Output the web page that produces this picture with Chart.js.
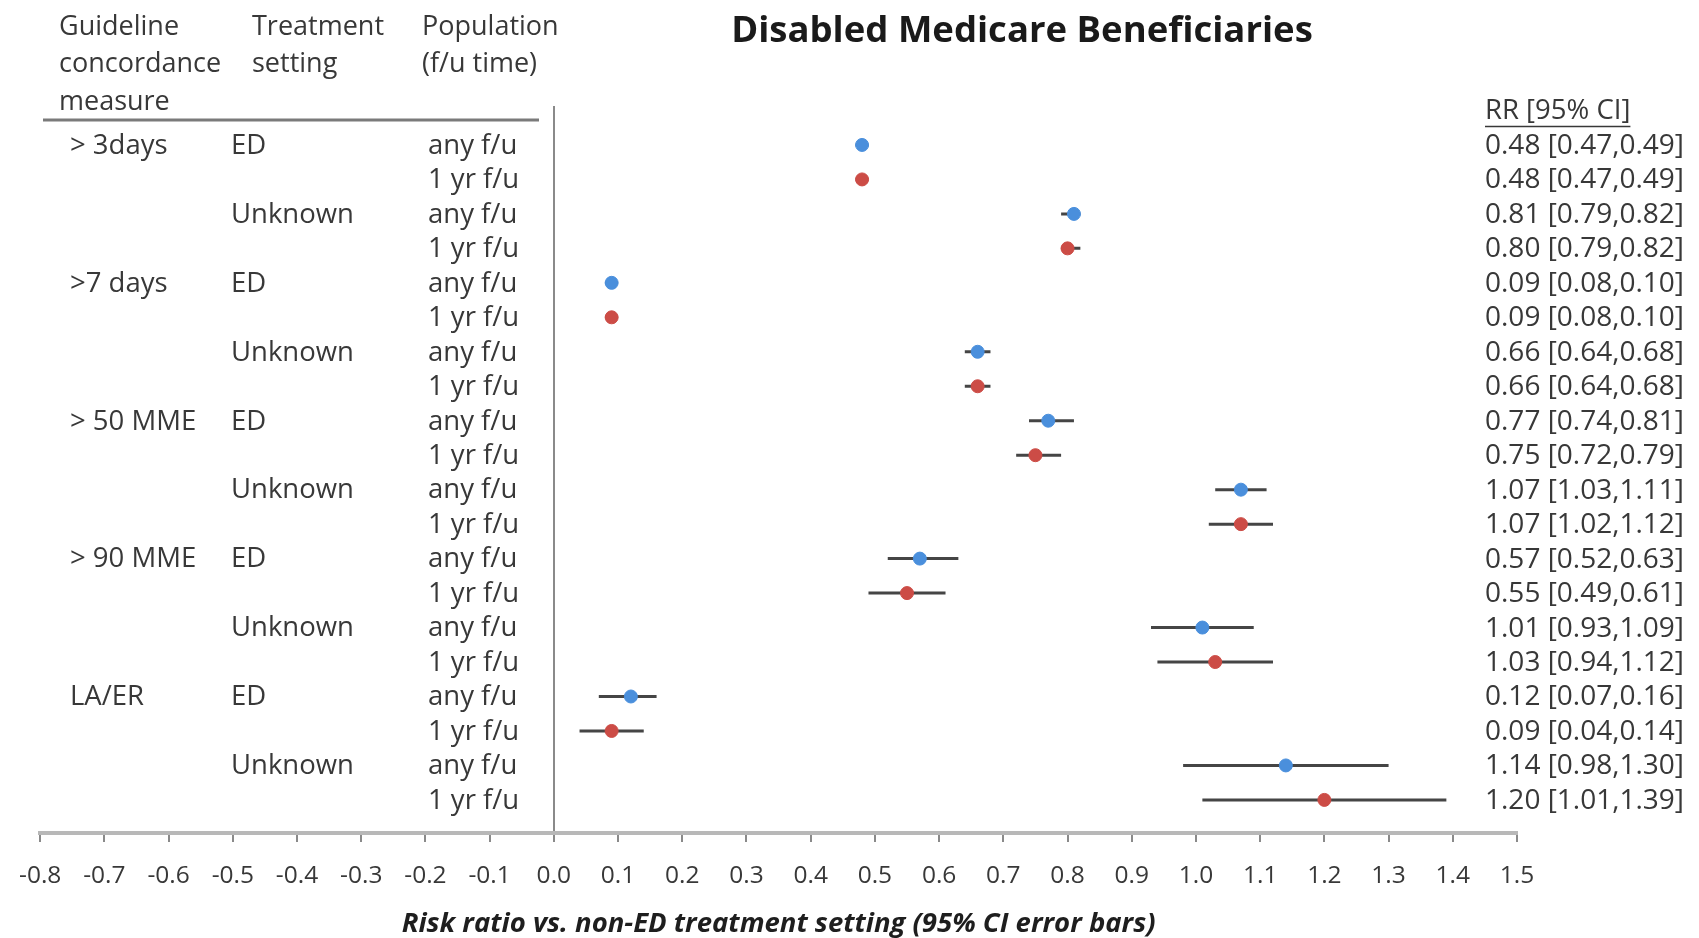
<!DOCTYPE html>
<html>
<head>
<meta charset="utf-8">
<title>Disabled Medicare Beneficiaries</title>
<script src="https://cdn.jsdelivr.net/npm/chart.js@4.4.1/dist/chart.umd.min.js"></script>
<style>
  html, body { margin: 0; padding: 0; background: #fff; }
  #wrap { width: 1699px; height: 938px; position: relative; }
</style>
</head>
<body>
<div id="wrap"><canvas id="forest"></canvas></div>
<script>
// --- values (one entry per row, top to bottom) ---
const measures = ['> 3days', '', '', '', '>7 days', '', '', '', '> 50 MME', '', '', '',
                  '> 90 MME', '', '', '', 'LA/ER', '', '', ''];
const settings = ['ED', '', 'Unknown', '', 'ED', '', 'Unknown', '', 'ED', '', 'Unknown', '',
                  'ED', '', 'Unknown', '', 'ED', '', 'Unknown', ''];
const populations = ['any f/u', '1 yr f/u', 'any f/u', '1 yr f/u', 'any f/u', '1 yr f/u', 'any f/u', '1 yr f/u',
                     'any f/u', '1 yr f/u', 'any f/u', '1 yr f/u', 'any f/u', '1 yr f/u', 'any f/u', '1 yr f/u',
                     'any f/u', '1 yr f/u', 'any f/u', '1 yr f/u'];
const rr    = [0.48, 0.48, 0.81, 0.80, 0.09, 0.09, 0.66, 0.66, 0.77, 0.75,
               1.07, 1.07, 0.57, 0.55, 1.01, 1.03, 0.12, 0.09, 1.14, 1.20];
const ciLow = [0.47, 0.47, 0.79, 0.79, 0.08, 0.08, 0.64, 0.64, 0.74, 0.72,
               1.03, 1.02, 0.52, 0.49, 0.93, 0.94, 0.07, 0.04, 0.98, 1.01];
const ciHigh = [0.49, 0.49, 0.82, 0.82, 0.10, 0.10, 0.68, 0.68, 0.81, 0.79,
                1.11, 1.12, 0.63, 0.61, 1.09, 1.12, 0.16, 0.14, 1.30, 1.39];
const xMin = -0.8, xMax = 1.5, xStep = 0.1;

const FONT = '"Open Sans", Lato, sans-serif';
const BLUE = '#4a8fdc';
const RED = '#cc4c46';
const TEXT = '#383838';

// points: "any f/u" rows in blue, "1 yr f/u" rows in red
const anyPts = [], yrPts = [], ciPts = [];
rr.forEach((v, i) => {
  (i % 2 === 0 ? anyPts : yrPts).push({ x: v, y: i });
  ciPts.push({ x: ciLow[i], y: i }, { x: ciHigh[i], y: i }, { x: ciHigh[i], y: null });
});

const fmt = v => v.toFixed(2);

// table text, title and header rule drawn around the plot
const tablePlugin = {
  id: 'tableText',
  afterDraw(chart) {
    const ctx = chart.ctx;
    const y = chart.scales.y;
    ctx.save();
    ctx.fillStyle = '#1a1a1a';
    ctx.font = 'bold 36.5px ' + FONT;
    ctx.textAlign = 'center';
    ctx.textBaseline = 'middle';
    ctx.fillText('Disabled Medicare Beneficiaries', 1022, 32);

    ctx.fillStyle = TEXT;
    ctx.font = '27px ' + FONT;
    ctx.textAlign = 'left';
    [['Guideline', 'concordance', 'measure'], ['Treatment', 'setting'], ['Population', '(f/u time)']]
      .forEach((lines, c) => {
        const x = [59, 252, 422][c];
        lines.forEach((t, k) => ctx.fillText(t, x, 27 + k * 37.5));
      });

    ctx.strokeStyle = '#7a7a7a';
    ctx.lineWidth = 3;
    ctx.beginPath();
    ctx.moveTo(43, 120);
    ctx.lineTo(539, 120);
    ctx.stroke();

    ctx.font = '27.5px ' + FONT;
    rr.forEach((v, i) => {
      const py = y.getPixelForValue(i) + 1;
      ctx.fillText(measures[i], 70, py);
      ctx.fillText(settings[i], 231, py);
      ctx.fillText(populations[i], 428, py);
    });
    ctx.font = '28px ' + FONT;
    rr.forEach((v, i) => {
      const py = y.getPixelForValue(i) + 1;
      ctx.fillText(fmt(v) + ' [' + fmt(ciLow[i]) + ',' + fmt(ciHigh[i]) + ']', 1485, py);
    });

    // RR column header, underlined
    const head = 'RR [95% CI]';
    const hy = y.getPixelForValue(-1.0) + 1;
    ctx.font = '27.5px ' + FONT;
    ctx.fillText(head, 1485, hy);
    const w = ctx.measureText(head).width;
    ctx.lineWidth = 1.5;
    ctx.strokeStyle = TEXT;
    ctx.beginPath();
    ctx.moveTo(1485, hy + 15);
    ctx.lineTo(1485 + w, hy + 15);
    ctx.stroke();
    ctx.restore();
  }
};

new Chart(document.getElementById('forest'), {
  type: 'scatter',
  data: {
    datasets: [
      { label: 'any f/u', data: anyPts, backgroundColor: BLUE, borderColor: BLUE,
        pointRadius: 6.5, pointHoverRadius: 6.5, order: 1 },
      { label: '1 yr f/u', data: yrPts, backgroundColor: RED, borderColor: RED,
        pointRadius: 6.5, pointHoverRadius: 6.5, order: 1 },
      { label: '95% CI', data: ciPts, showLine: true, spanGaps: false, pointRadius: 0,
        borderColor: '#454545', borderWidth: 3, order: 2 }
    ]
  },
  options: {
    responsive: true,
    maintainAspectRatio: false,
    animation: false,
    layout: { padding: { left: 38, right: 182, top: 106, bottom: 0 } },
    plugins: { legend: { display: false }, tooltip: { enabled: false } },
    scales: {
      x: {
        type: 'linear',
        min: xMin,
        max: xMax,
        afterFit(scale) { scale.height = 105; },
        border: { display: true, color: '#b8b8b8', width: 4 },
        grid: {
          color: c => (c.tick && Math.abs(c.tick.value) < 1e-9) ? '#8a8a8a' : 'rgba(0,0,0,0)',
          lineWidth: 2,
          tickColor: '#8a8a8a',
          tickLength: 9,
          drawTicks: true
        },
        ticks: {
          stepSize: xStep,
          padding: 19,
          color: TEXT,
          font: { family: FONT, size: 24.5 },
          maxRotation: 0,
          autoSkip: false,
          callback: v => (Math.abs(v) < 1e-9 ? 0 : v).toFixed(1)
        },
        title: {
          display: true,
          text: 'Risk ratio vs. non-ED treatment setting (95% CI error bars)',
          color: '#1e1e1e',
          font: { family: FONT, size: 27.5, style: 'italic', weight: 'bold', lineHeight: 1.0 },
          padding: { top: 0, bottom: 0 }
        }
      },
      y: {
        type: 'linear',
        min: -1.13,
        max: 19.96,
        reverse: true,
        display: false
      }
    }
  },
  plugins: [tablePlugin]
});
</script>
</body>
</html>
